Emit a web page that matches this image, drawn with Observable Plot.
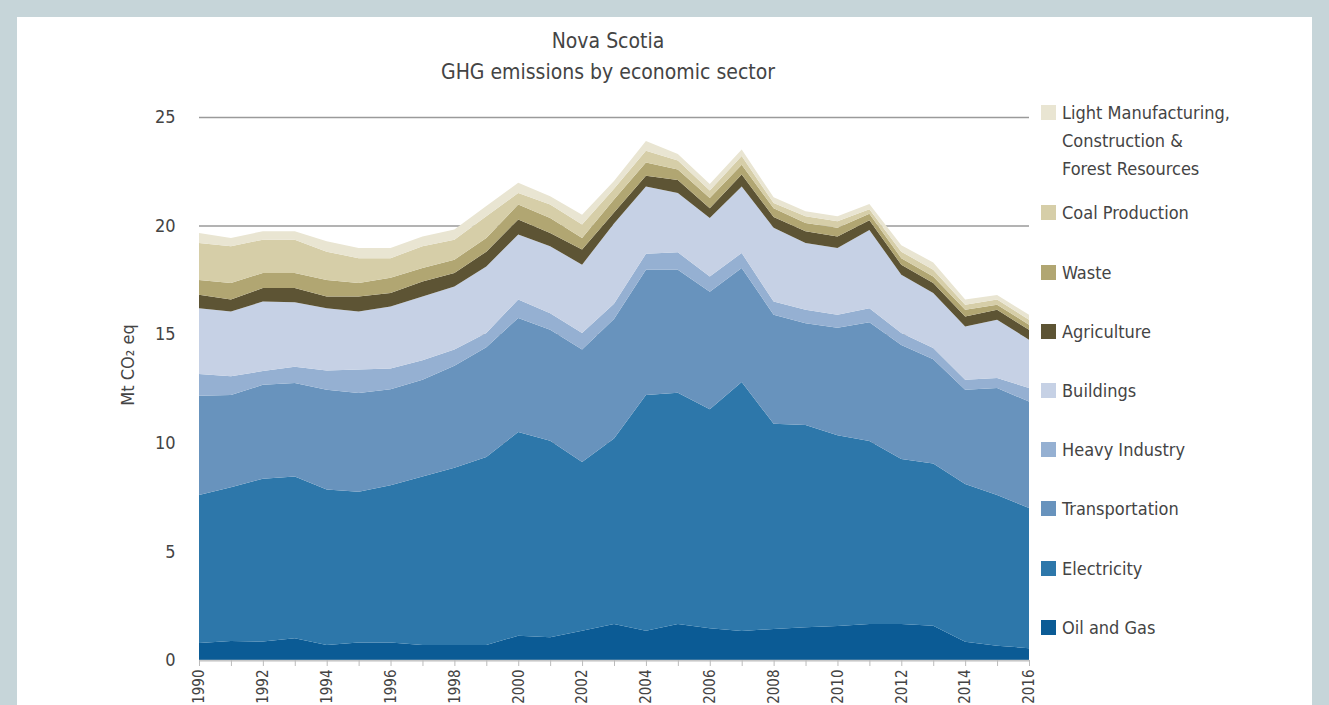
<!DOCTYPE html>
<html>
<head>
<meta charset="utf-8">
<script src="https://cdn.jsdelivr.net/npm/d3@7"></script>
<script src="https://cdn.jsdelivr.net/npm/@observablehq/plot@0.6"></script>
<style>
  html, body { margin: 0; padding: 0; }
  body { width: 1329px; height: 705px; overflow: hidden; background: #c6d5d9; font-family: "DejaVu Sans Condensed", "DejaVu Sans", sans-serif; font-stretch: condensed; }
  #panel { position: absolute; left: 17px; top: 17px; width: 1295px; height: 720px; background: #fff; }
  #title { position: absolute; left: 0; width: 1216px; top: 26px; text-align: center; font-size: 21px; line-height: 31px; color: #444; }
  #chart { position: absolute; left: 0; top: 95px; }
  #chart svg { font-stretch: condensed; }
  #legend { position: absolute; left: 1041px; top: 0; width: 280px; }
  .item { position: absolute; left: 0; display: flex; align-items: flex-start; font-size: 18px; line-height: 28px; color: #444; white-space: nowrap; }
  .sw { width: 15px; height: 15px; margin-top: 6px; margin-right: 6px; flex: none; }
</style>
</head>
<body>
<div id="panel"></div>
<div id="title">Nova Scotia<br>GHG emissions by economic sector</div>
<div id="chart"></div>
<div id="legend"></div>
<script>
const years = [1990,1991,1992,1993,1994,1995,1996,1997,1998,1999,2000,2001,2002,2003,2004,2005,2006,2007,2008,2009,2010,2011,2012,2013,2014,2015,2016];

// Sectors, bottom to top of the stack
const sectors = ["Oil and Gas","Electricity","Transportation","Heavy Industry","Buildings","Agriculture","Waste","Coal Production","Light Manufacturing, Construction & Forest Resources"];
const colors  = ["#0b5b95","#2d77aa","#6893bd","#95b0d2","#c6d1e5","#5d5434","#b1a672","#d6cea8","#e9e5d2"];

// Mt CO2 eq
const oilGas        = [0.78,0.87,0.85,1.00,0.69,0.80,0.80,0.69,0.69,0.69,1.12,1.05,1.35,1.66,1.35,1.66,1.46,1.34,1.43,1.51,1.57,1.66,1.66,1.58,0.84,0.66,0.54];
const electricity   = [6.82,7.08,7.50,7.45,7.16,6.95,7.25,7.76,8.16,8.66,9.38,9.05,7.77,8.54,10.85,10.64,10.09,11.46,9.45,9.31,8.78,8.42,7.59,7.47,7.26,6.94,6.46];
const transport     = [4.57,4.25,4.32,4.30,4.59,4.54,4.41,4.45,4.70,5.05,5.25,5.10,5.18,5.50,5.77,5.67,5.40,5.25,5.02,4.68,4.95,5.47,5.25,4.80,4.34,4.92,4.90];
const heavyIndustry = [1.00,0.86,0.63,0.75,0.89,1.09,0.96,0.90,0.75,0.66,0.85,0.77,0.75,0.70,0.73,0.80,0.71,0.69,0.60,0.63,0.60,0.65,0.55,0.51,0.46,0.46,0.62];
const buildings     = [3.03,2.99,3.20,2.97,2.87,2.67,2.86,2.94,2.90,3.06,2.99,3.08,3.15,3.70,3.10,2.73,2.69,3.06,3.40,3.07,3.07,3.60,2.69,2.54,2.46,2.69,2.23];
const agriculture   = [0.62,0.55,0.63,0.66,0.54,0.69,0.62,0.69,0.62,0.68,0.69,0.61,0.70,0.50,0.50,0.60,0.45,0.55,0.50,0.54,0.53,0.45,0.46,0.46,0.46,0.46,0.45];
const waste         = [0.68,0.76,0.69,0.69,0.76,0.62,0.70,0.62,0.61,0.63,0.69,0.69,0.53,0.60,0.60,0.48,0.47,0.45,0.40,0.38,0.40,0.30,0.30,0.30,0.31,0.23,0.24];
const coal          = [1.70,1.69,1.53,1.53,1.30,1.14,0.90,1.00,0.92,1.00,0.53,0.62,0.62,0.50,0.55,0.42,0.35,0.40,0.24,0.31,0.30,0.20,0.30,0.31,0.23,0.24,0.23];
const lightMfg      = [0.46,0.38,0.39,0.39,0.48,0.47,0.47,0.45,0.47,0.47,0.47,0.38,0.45,0.35,0.45,0.30,0.30,0.30,0.26,0.23,0.23,0.25,0.30,0.33,0.24,0.20,0.23];

const yTicks = [0,5,10,15,20,25];
const yLabel = "Mt CO₂ eq";

const seriesValues = [oilGas, electricity, transport, heavyIndustry, buildings, agriculture, waste, coal, lightMfg];
const data = [];
sectors.forEach((s, i) => years.forEach((y, j) => data.push({year: y, sector: s, value: seriesValues[i][j]})));

const font = '"DejaVu Sans Condensed", "DejaVu Sans", sans-serif';

const chart = Plot.plot({
  width: 1040,
  height: 610,
  marginLeft: 199,
  marginRight: 11,
  marginTop: 22,
  marginBottom: 45,
  style: {fontFamily: font, color: "#444", background: "transparent"},
  x: {domain: [1990, 2016]},
  y: {domain: [0, 25]},
  color: {domain: sectors, range: colors},
  marks: [
    Plot.gridY(yTicks, {stroke: "#9a9a9a", strokeOpacity: 1, strokeWidth: 1.5}),
    Plot.areaY(data, {x: "year", y: "value", z: "sector", fill: "sector", order: sectors, curve: "linear"}),
    Plot.ruleY([0], {stroke: "#c8c8c8", strokeWidth: 1.5}),
    Plot.axisY({ticks: yTicks, tickSize: 0, tickPadding: 24, fontSize: 18, label: null}),
    Plot.text([yLabel], {frameAnchor: "left", textAnchor: "middle", dx: -71, dy: -24, rotate: -90, fontSize: 18, fill: "#444"}),
    Plot.axisX({ticks: years, tickFormat: d => d % 2 === 0 ? String(d) : "", tickRotate: -90, tickSize: 6, tickPadding: 3, fontSize: 15, stroke: "#bbb", label: null})
  ]
});
document.getElementById("chart").appendChild(chart);

// Legend (top of stack first)
const legendTops = [99, 199, 259, 318, 377, 436, 495, 555, 614];
const legendNames = ["Light Manufacturing,\nConstruction &\nForest Resources","Coal Production","Waste","Agriculture","Buildings","Heavy Industry","Transportation","Electricity","Oil and Gas"];
const legend = document.getElementById("legend");
legendNames.forEach((name, i) => {
  const idx = sectors.length - 1 - i;
  const item = document.createElement("div");
  item.className = "item";
  item.style.top = legendTops[i] + "px";
  const sw = document.createElement("div");
  sw.className = "sw";
  sw.style.background = colors[idx];
  const t = document.createElement("div");
  t.innerHTML = name.split("\n").join("<br>");
  item.appendChild(sw);
  item.appendChild(t);
  legend.appendChild(item);
});
</script>
</body>
</html>
